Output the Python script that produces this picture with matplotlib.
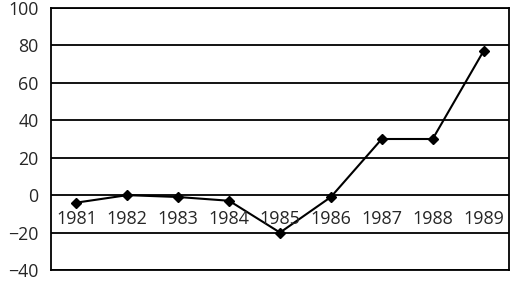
import matplotlib
matplotlib.use("Agg")
import matplotlib.pyplot as plt

years = ["1981", "1982", "1983", "1984", "1985", "1986", "1987", "1988", "1989"]
values = [-4, 0, -1, -3, -20, -1, 30, 30, 77]
y_ticks = [-40, -20, 0, 20, 40, 60, 80, 100]

plt.rcParams['font.family'] = ['Open Sans', 'DejaVu Sans']

fig = plt.figure(figsize=(5.14, 2.82), dpi=100)
ax = fig.add_axes([51/514, 12/282, 458/514, 262/282])

x = list(range(len(years)))
ax.set_xlim(-0.5, len(years) - 0.5)
ax.set_ylim(-40, 100)
ax.set_yticks(y_ticks)
ax.set_yticklabels([("\u2212" + str(-v)) if v < 0 else str(v) for v in y_ticks],
                   fontsize=12.8, color="#262626")
ax.tick_params(axis='y', length=0, pad=9)
ax.set_xticks([])
for v in y_ticks:
    ax.axhline(v, color="black", lw=1.3, zorder=1)
for s in ax.spines.values():
    s.set_color("black")
    s.set_linewidth(1.3)

ax.plot(x, values, color="black", lw=1.5, marker="D", markersize=5, zorder=3)

for i, yr in enumerate(years):
    ax.annotate(yr, (i, 0), xytext=(0, -17.5), textcoords="offset points",
                ha="center", va="center", fontsize=13, color="#262626")

fig.savefig("out.png", dpi=100)
